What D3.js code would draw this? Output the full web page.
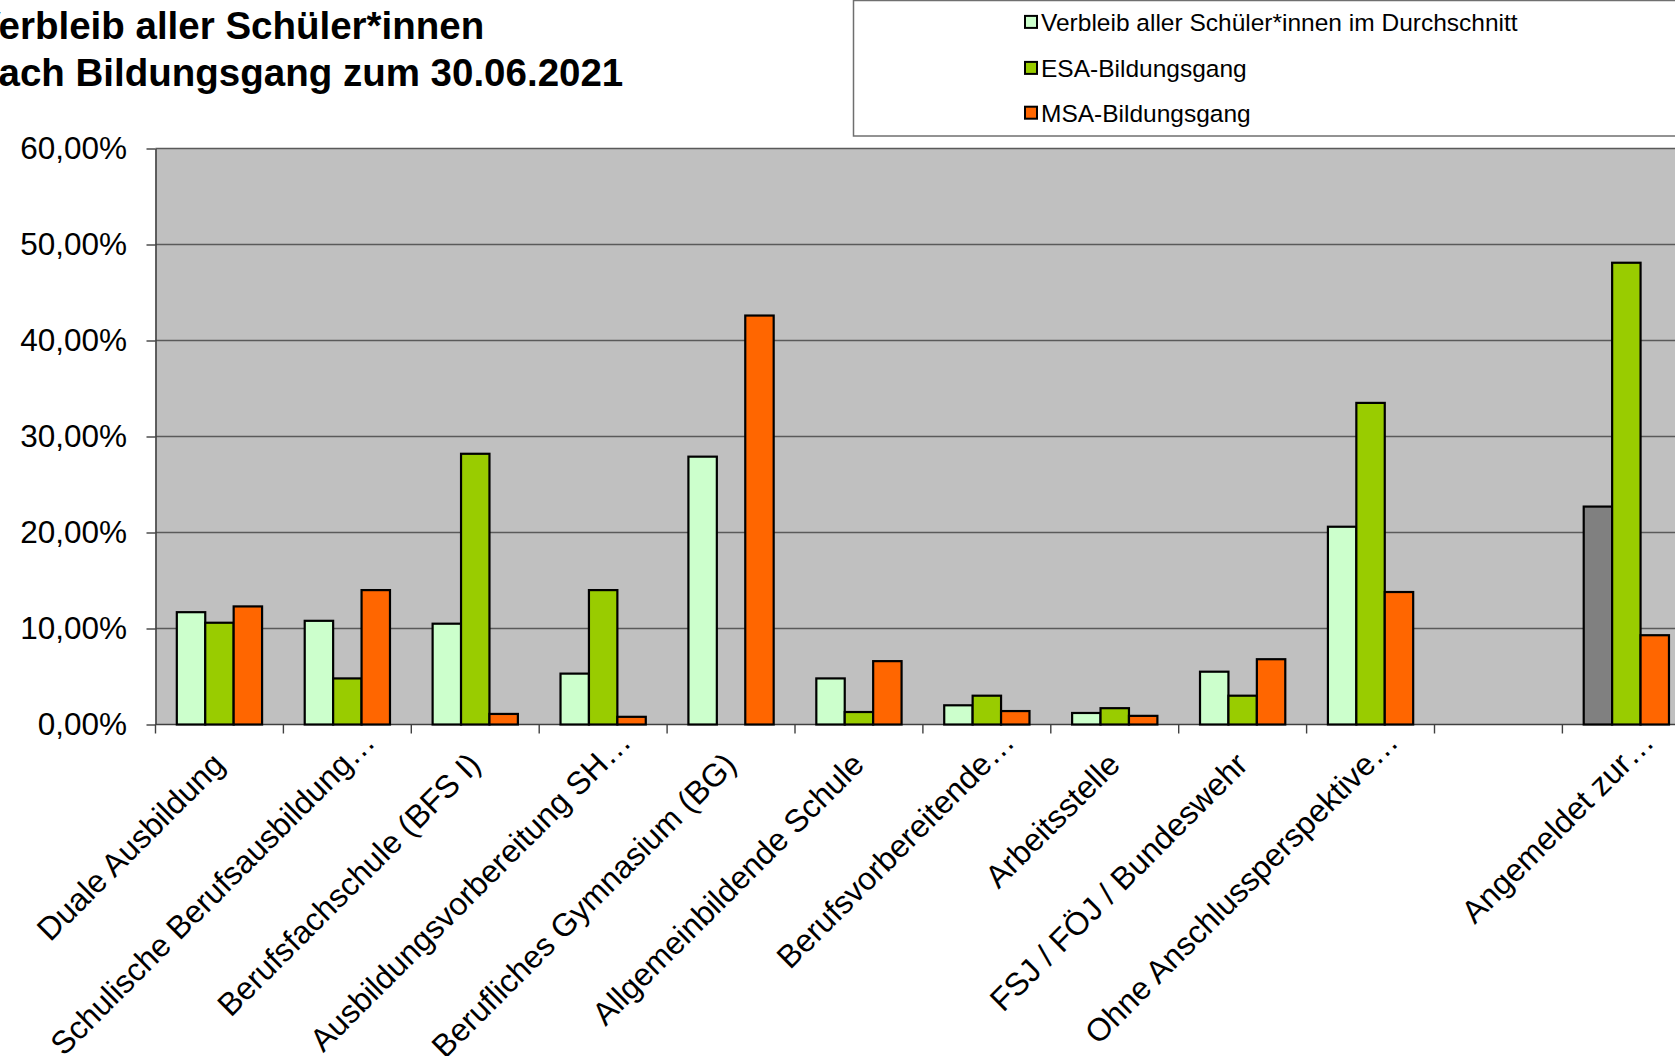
<!DOCTYPE html>
<html>
<head>
<meta charset="utf-8">
<script src="https://cdn.jsdelivr.net/npm/d3@7"></script>
<style>
  body { margin: 0; background: #fff; overflow: hidden; }
  svg { display: block; font-family: "Liberation Sans", Arial, Helvetica, sans-serif; }
</style>
</head>
<body>
<svg id="chart" width="1675" height="1056"></svg>
<script>
// ---- data -------------------------------------------------------------
const categories = [
  "Duale Ausbildung",
  "Schulische Berufsausbildung…",
  "Berufsfachschule (BFS I)",
  "Ausbildungsvorbereitung SH…",
  "Berufliches Gymnasium (BG)",
  "Allgemeinbildende Schule",
  "Berufsvorbereitende…",
  "Arbeitsstelle",
  "FSJ / FÖJ / Bundeswehr",
  "Ohne Anschlussperspektive…",
  "",
  "Angemeldet zur…"
];
// shares in percent
const avgAll = [11.7, 10.8, 10.5, 5.3, 27.9, 4.8, 2.0, 1.2, 5.5, 20.6, 0, 22.7];
const esa    = [10.6, 4.8, 28.2, 14.0, 0, 1.3, 3.0, 1.7, 3.0, 33.5, 0, 48.1];
const msa    = [12.3, 14.0, 1.1, 0.8, 42.6, 6.6, 1.4, 0.9, 6.8, 13.8, 0, 9.3];

const seriesNames = [
  "Verbleib aller Schüler*innen im Durchschnitt",
  "ESA-Bildungsgang",
  "MSA-Bildungsgang"
];
const yTicks = [0, 10, 20, 30, 40, 50, 60];
const titleLines = ["Verbleib aller Schüler*innen", "nach Bildungsgang zum 30.06.2021"];

// ---- styling ----------------------------------------------------------
const seriesColors = ["#CCFFCC", "#99CC00", "#FF6600"];
const overrideFill = { "0-11": "#808080" };   // series-index : category-index
const plotBg = "#C0C0C0";
const gridColor = "#5a5a5a";

const svg = d3.select("#chart");
const plot = { left: 155.5, top: 148.5, bottom: 724.5, band: 127.9 };

const x = d3.scaleBand()
  .domain(d3.range(categories.length))
  .range([plot.left, plot.left + plot.band * categories.length]);

const xs = d3.scaleBand()
  .domain(d3.range(seriesNames.length))
  .range([0, x.bandwidth()])
  .paddingInner(0)
  .paddingOuter(0.75);

const y = d3.scaleLinear().domain([0, 60]).range([plot.bottom, plot.top]);

const locale = d3.formatLocale({ decimal: ",", thousands: ".", grouping: [3], currency: ["", " €"] });
const pct = v => locale.format(".2f")(v) + "%";

const plotRight = x.range()[1];

// plot area
svg.append("rect")
  .attr("x", plot.left).attr("y", plot.top)
  .attr("width", plotRight - plot.left).attr("height", plot.bottom - plot.top)
  .attr("fill", plotBg);

// horizontal gridlines
svg.append("g").selectAll("line")
  .data(yTicks.filter(t => t > 0))
  .join("line")
  .attr("x1", plot.left).attr("x2", plotRight)
  .attr("y1", d => y(d)).attr("y2", d => y(d))
  .attr("stroke", gridColor).attr("stroke-width", 1.6);

// y axis
const yAxis = svg.append("g")
  .attr("transform", `translate(${plot.left},0)`)
  .call(d3.axisLeft(y).tickValues(yTicks).tickSize(9).tickSizeOuter(0).tickPadding(19.5).tickFormat(pct));
yAxis.select(".domain").attr("stroke", "#404040").attr("stroke-width", 1.6);
yAxis.selectAll(".tick line").attr("stroke", "#404040").attr("stroke-width", 1.4);
yAxis.selectAll(".tick text")
  .attr("font-size", 31.5).attr("fill", "#000")
  .attr("font-family", "Liberation Sans, Arial, sans-serif");
// left axis line continues below the baseline like the category ticks
svg.append("line")
  .attr("x1", plot.left).attr("x2", plot.left)
  .attr("y1", plot.bottom).attr("y2", plot.bottom + 9)
  .attr("stroke", "#404040").attr("stroke-width", 1.4);

// x axis baseline and category separators
svg.append("line")
  .attr("x1", plot.left).attr("x2", plotRight)
  .attr("y1", plot.bottom).attr("y2", plot.bottom)
  .attr("stroke", "#404040").attr("stroke-width", 1.6);
const boundaries = d3.range(1, categories.length + 1).map(i => i < categories.length ? x(i) : plotRight);
svg.append("g").selectAll("line")
  .data(boundaries)
  .join("line")
  .attr("x1", d => d).attr("x2", d => d)
  .attr("y1", plot.bottom).attr("y2", plot.bottom + 9)
  .attr("stroke", "#404040").attr("stroke-width", 1.4);

// bars
const series = [avgAll, esa, msa];
const barData = [];
series.forEach((vals, s) => vals.forEach((v, i) => {
  if (v > 0) barData.push({ s, i, v });
}));
svg.append("g").selectAll("rect")
  .data(barData)
  .join("rect")
  .attr("x", d => x(d.i) + xs(d.s))
  .attr("width", xs.bandwidth())
  .attr("y", d => y(d.v))
  .attr("height", d => y(0) - y(d.v))
  .attr("fill", d => overrideFill[`${d.s}-${d.i}`] || seriesColors[d.s])
  .attr("stroke", "#000")
  .attr("stroke-width", 2.2);

// category labels, rotated; a trailing ellipsis hangs past the anchor point
const labels = svg.append("g").selectAll("text")
  .data(categories.map((c, i) => ({ c, i })).filter(d => d.c !== ""))
  .join("text")
  .attr("transform", d => `translate(${x(d.i) + x.bandwidth() / 2 + 7},${plot.bottom + 42}) rotate(-45)`)
  .attr("text-anchor", "end")
  .attr("font-size", 32)
  .attr("fill", "#000")
  .text(d => d.c);
labels.each(function (d) {
  if (d.c.endsWith("…")) {
    const n = d.c.length;
    const w = this.getSubStringLength(n - 1, 1);
    d3.select(this).attr("x", w);
  }
});

// legend
const legend = svg.append("g");
legend.append("rect")
  .attr("x", 853.5).attr("y", 0.5)
  .attr("width", 900).attr("height", 135.5)
  .attr("fill", "#fff").attr("stroke", "#6f6f6f").attr("stroke-width", 1.5);
const legendY = [22.4, 68.4, 113.2];
const entries = legend.selectAll("g.entry")
  .data(seriesNames.map((n, k) => ({ n, k })))
  .join("g").attr("class", "entry")
  .attr("transform", d => `translate(0,${legendY[d.k]})`);
entries.append("rect")
  .attr("x", 1025).attr("y", -6.5).attr("width", 12).attr("height", 12)
  .attr("fill", d => seriesColors[d.k]).attr("stroke", "#000").attr("stroke-width", 2);
entries.append("text")
  .attr("x", 1041).attr("y", 0)
  .attr("dominant-baseline", "central")
  .attr("font-size", 24.5).attr("fill", "#000")
  .text(d => d.n);

// title
svg.append("g").selectAll("text")
  .data(titleLines)
  .join("text")
  .attr("x", -25)
  .attr("y", (d, k) => 38.5 + k * 47)
  .attr("font-size", 38.5)
  .attr("font-weight", "bold")
  .attr("fill", "#000")
  .text(d => d);
</script>
</body>
</html>
